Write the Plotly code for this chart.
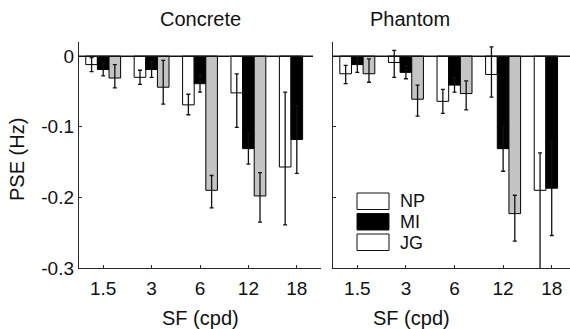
import plotly.graph_objects as go

# ---- data ----
sf_labels = ["1.5", "3", "6", "12", "18"]
series_names = ["NP", "MI", "JG"]
panel_titles = ["Concrete", "Phantom"]

# Concrete panel
conc_np = [-0.012, -0.030, -0.069, -0.052, -0.157]
conc_np_up = [0.010, 0.010, 0.015, 0.027, 0.106]
conc_np_dn = [0.010, 0.010, 0.014, 0.049, 0.082]
conc_mi = [-0.019, -0.019, -0.039, -0.131, -0.118]
conc_mi_up = [0.009, 0.011, 0.012, 0.022, 0.048]
conc_mi_dn = [0.009, 0.011, 0.012, 0.022, 0.048]
conc_jg = [-0.031, -0.044, -0.190, -0.198, None]
conc_jg_up = [0.019, 0.038, 0.021, 0.033, 0]
conc_jg_dn = [0.014, 0.024, 0.025, 0.037, 0]

# Phantom panel
phan_np = [-0.025, -0.009, -0.064, -0.026, -0.190]
phan_np_up = [0.012, 0.017, 0.017, 0.039, 0.053]
phan_np_dn = [0.014, 0.021, 0.017, 0.032, 0.150]
phan_mi = [-0.012, -0.023, -0.041, -0.131, -0.187]
phan_mi_up = [0.011, 0.009, 0.010, 0.032, 0.067]
phan_mi_dn = [0.011, 0.009, 0.010, 0.032, 0.067]
phan_jg = [-0.025, -0.061, -0.053, -0.223, None]
phan_jg_up = [0.021, 0.020, 0.018, 0.026, 0]
phan_jg_dn = [0.012, 0.024, 0.023, 0.039, 0]

y_tickvals = [0, -0.1, -0.2, -0.3]
y_ticktext = ["0", "-0.1", "-0.2", "-0.3"]

# ---- styling ----
FONT = "Liberation Sans, Arial, sans-serif"
INK = "#111111"
AX = "#2a2a2a"
colors = {"NP": "#ffffff", "MI": "#000000", "JG": "#c4c4c4"}

W, H = 570, 329
T, B = 42, 61
plot_h = H - T - B

fig = go.Figure()

panels = [
    ("x", "y", [(conc_np, conc_np_up, conc_np_dn), (conc_mi, conc_mi_up, conc_mi_dn), (conc_jg, conc_jg_up, conc_jg_dn)]),
    ("x2", "y2", [(phan_np, phan_np_up, phan_np_dn), (phan_mi, phan_mi_up, phan_mi_dn), (phan_jg, phan_jg_up, phan_jg_dn)]),
]

for xa, ya, data in panels:
    for name, (vals, up, dn) in zip(series_names, data):
        fig.add_trace(go.Bar(
            x=sf_labels, y=vals, name=name, xaxis=xa, yaxis=ya,
            marker=dict(color=colors[name], line=dict(color="#000000", width=1)),
            error_y=dict(type="data", symmetric=False, array=up, arrayminus=dn,
                         color="#111111", thickness=1.3, width=2),
            showlegend=False,
        ))

axis_common = dict(
    type="category", showline=True, linecolor=AX, linewidth=1.3,
    ticks="inside", ticklen=3, tickcolor=AX, showgrid=False, zeroline=False,
    tickfont=dict(family=FONT, size=19, color=INK), ticklabelstandoff=3,
)
yaxis_common = dict(
    range=[-0.3, 0.02], showline=True, linecolor=AX, linewidth=1.3,
    ticks="inside", ticklen=3, tickcolor=AX, showgrid=False, zeroline=False,
    tickvals=y_tickvals, ticktext=y_ticktext,
    tickfont=dict(family=FONT, size=19, color=INK),
)

fig.update_layout(
    width=W, height=H,
    margin=dict(l=0, r=0, t=T, b=B),
    paper_bgcolor="white", plot_bgcolor="white",
    barmode="group", bargap=0.28, bargroupgap=0,
    showlegend=False,
    xaxis=dict(domain=[79 / W, 321 / W], range=[-0.5, 4.5], anchor="y", **axis_common),
    xaxis2=dict(domain=[333 / W, 1.0], range=[-0.5, 4.376], anchor="y2", **axis_common),
    yaxis=dict(anchor="x", domain=[0, 1], showticklabels=True, **yaxis_common),
    yaxis2=dict(anchor="x2", domain=[0, 1], showticklabels=False, **yaxis_common),
)

# zero baselines
fig.add_shape(type="line", xref="x domain", yref="y", x0=0, x1=234 / 242, y0=0, y1=0,
              line=dict(color="#111111", width=1.5))
fig.add_shape(type="line", xref="x2 domain", yref="y2", x0=0, x1=1, y0=0, y1=0,
              line=dict(color="#111111", width=1.5))

def py(p):
    return (H - B - p) / plot_h

# panel titles
fig.add_annotation(text=panel_titles[0], x=200 / W, y=py(19), xref="paper", yref="paper",
                   showarrow=False, font=dict(family=FONT, size=20, color=INK), yanchor="middle")
fig.add_annotation(text=panel_titles[1], x=452 / W, y=py(19), xref="paper", yref="paper",
                   showarrow=False, font=dict(family=FONT, size=20, color=INK), yanchor="middle")
# x titles
for cx in (200, 452):
    fig.add_annotation(text="SF (cpd)", x=cx / W, y=py(318), xref="paper", yref="paper",
                       showarrow=False, font=dict(family=FONT, size=20, color=INK), yanchor="middle")
# y title
fig.add_annotation(text="PSE (Hz)", x=17 / W, y=py(160), xref="paper", yref="paper", textangle=-90,
                   showarrow=False, font=dict(family=FONT, size=20, color=INK),
                   xanchor="center", yanchor="middle")

# legend (manual, as in reference)
legend_fill = {"NP": "#ffffff", "MI": "#000000", "JG": "#ffffff"}
box_tops = [193, 213.5, 234]
for name, top in zip(series_names, box_tops):
    fig.add_shape(type="rect", xref="paper", yref="paper",
                  x0=357 / W, x1=389 / W, y0=py(top + 16.5), y1=py(top),
                  fillcolor=legend_fill[name], line=dict(color="#111111", width=1))
    fig.add_annotation(text=name, x=398 / W, y=py(top + 8.5), xref="paper", yref="paper",
                       showarrow=False, xanchor="left", yanchor="middle",
                       font=dict(family=FONT, size=18, color=INK))

fig.write_html("out.html", config={"displayModeBar": False},
               post_script="document.body.style.margin='0px';document.body.style.overflow='hidden';")
